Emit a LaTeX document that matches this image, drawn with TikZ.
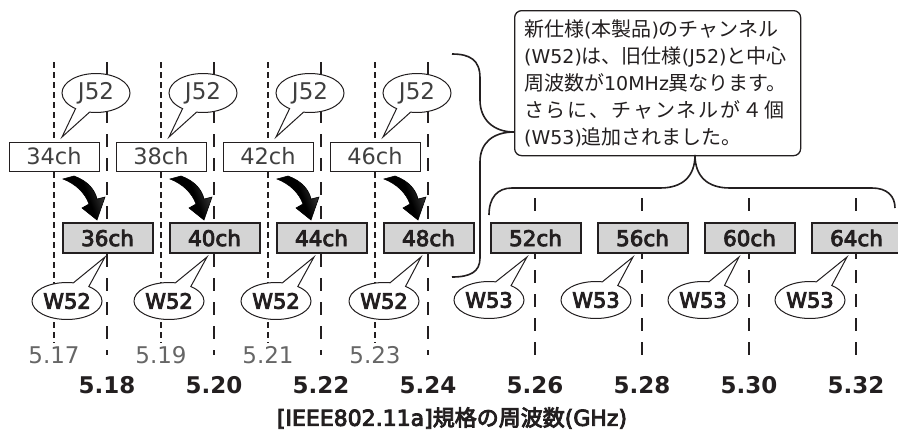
\documentclass[tikz,border=0pt]{standalone}
\usepackage{fontspec}
\setmainfont{DejaVu Sans}
\newfontfamily\jp{Noto Sans CJK JP}
\newfontfamily\jpm[FakeBold=4]{Noto Sans CJK JP}
\newfontfamily\semib[FakeBold=4]{DejaVu Sans}
\newfontfamily\dvs[Scale=0.95]{DejaVu Sans}
\newcommand\lat[1]{{\dvs #1}}
\usetikzlibrary{shapes.callouts,shapes.geometric}
\definecolor{wfill}{HTML}{D4D4D4}
\definecolor{ink}{HTML}{231F20}
\pgfdeclarehorizontalshading{turnshade}{100bp}{color(0bp)=(black); color(55bp)=(black); color(80bp)=(black!70); color(100bp)=(white)}
\begin{document}
\begin{tikzpicture}[x=1pt,y=-1pt,
  jline/.style={draw=ink, line width=1.1pt, dash pattern=on 6pt off 4pt},
  wline/.style={draw=ink, line width=1.3pt, dash pattern=on 13pt off 11pt},
  jbox/.style={draw=ink, line width=0.9pt, fill=white, minimum width=90pt, minimum height=29pt, inner sep=0pt, text=black!75, font=\fontsize{22.5}{24}\selectfont},
  wbox/.style={draw=ink, line width=2pt, fill=wfill, minimum width=90pt, minimum height=30pt, inner sep=0pt, text=ink, font=\semib\fontsize{21.5}{23}\selectfont},
  jcall/.style={ellipse callout, draw=ink, line width=1pt, fill=white, minimum width=68pt, minimum height=39pt, inner sep=0pt, callout pointer arc=26, text=black!75, font=\fontsize{23}{24}\selectfont},
  wcall/.style={ellipse callout, draw=ink, line width=1pt, fill=white, minimum width=70pt, minimum height=37pt, inner sep=0pt, callout pointer arc=28, text=ink, font=\semib\fontsize{21}{23}\selectfont},
  jfreq/.style={text=black!60, font=\fontsize{23}{25}\selectfont},
  wfreq/.style={text=ink, font=\bfseries\fontsize{23}{25}\selectfont},
  brace/.style={draw=ink, line width=1.6pt},
  turn/.style={draw=black, line width=0.6pt, shading=turnshade, shading angle=20}
]
\useasboundingbox (0,0) rectangle (898,432);

% dashed frequency lines
\foreach \i in {0,...,3} {
  \draw[jline] (54+107*\i,62) -- (54+107*\i,343);
  \draw[wline] (107+107*\i,62) -- (107+107*\i,355);
}
\foreach \i in {4,...,7} {
  \draw[wline] (107+107*\i,198) -- (107+107*\i,358);
}

% old channels (J52) and new channels (W52)
\foreach \i/\jc/\wc/\jf/\wf/\cw/\tw in {0/34/36/5.17/5.18/67/105, 1/38/40/5.19/5.20/169/207, 2/42/44/5.21/5.22/276/314, 3/46/48/5.23/5.24/384/421} {
  \node[jbox] (j\i) at (54+107*\i,156.5) {\jc ch};
  \node[wbox] (w\i) at (107.5+107*\i,238) {\wc ch};
  \node[jcall, callout absolute pointer={(62+107*\i,137)}] (jc\i) at (96+107*\i,93) {J52};
  \node[wcall, callout absolute pointer={(\tw,257)}] (wc\i) at (\cw,301) {W52};
  \node[jfreq] (jf\i) at (54+107*\i,355) {\jf};
  \node[wfreq] (wf\i) at (107+107*\i,385) {\wf};
  \begin{scope}[shift={(107*\i,0)}]
    \shade[turn] (63,179) -- (74,176) .. controls (88,181) and (95,190) .. (97,199) -- (105,197) -- (97,220) -- (82,208) -- (89,204) .. controls (85,193) and (76,184) .. cycle;
  \end{scope}
}

% added channels (W53)
\foreach \i/\wc/\wf/\cw/\tw in {4/52/5.26/489/527, 5/56/5.28/596/633, 6/60/5.30/703/739, 7/64/5.32/810/847} {
  \node[wbox] (w\i) at (107.5+107*\i,238) {\wc ch};
  \node[wcall, callout absolute pointer={(\tw,257)}] (wc\i) at (\cw,300) {W53};
  \node[wfreq] (wf\i) at (107+107*\i,385) {\wf};
}

% explanation box
\node[draw=ink, line width=1.3pt, rounded corners=7pt, fill=white, anchor=north west,
      minimum width=286pt, minimum height=145pt, inner xsep=9.5pt, inner ysep=0pt,
      text width=267pt, align=left, text=ink, font=\jp\fontsize{20}{27}\selectfont] (note) at (514,10)
  {新仕様\lat{(}本製品\lat{)}のチャンネル\\\lat{(W52)}は、旧仕様\lat{(J52)}と中心\\周波数が\lat{10MHz}異なります。\\\makebox[260pt][s]{さ\hfil ら\hfil に\hfil 、\hfil チ\hfil ャ\hfil ン\hfil ネ\hfil ル\hfil が\hfil ４\hfil 個}\\\lat{(W53)}追加されました。};

% braces
\coordinate (tipA) at (note.west |- 0,132);
\coordinate (tipB) at (695,155);
\draw[brace] (452,54) .. controls (470,54) and (480,60) .. (480,78) -- (480,100)
  .. controls (480,120) and (494,132) .. (tipA)
  .. controls (494,132) and (480,142) .. (480,162) -- (480,258)
  .. controls (480,272) and (470,277) .. (452,277);
\draw[brace] (489,215) .. controls (489,198) and (497,188) .. (512,188) -- (660,188)
  .. controls (683,188) and (695,176) .. (tipB)
  .. controls (695,176) and (707,188) .. (730,188) -- (872,188)
  .. controls (887,188) and (895,196) .. (895,208);

% axis title
\node[text=ink, font=\semib\fontsize{22}{24}\selectfont] (title) at (452,418) {[IEEE802.11a]{\jpm 規格の周波数}(GHz)};
\end{tikzpicture}
\end{document}
